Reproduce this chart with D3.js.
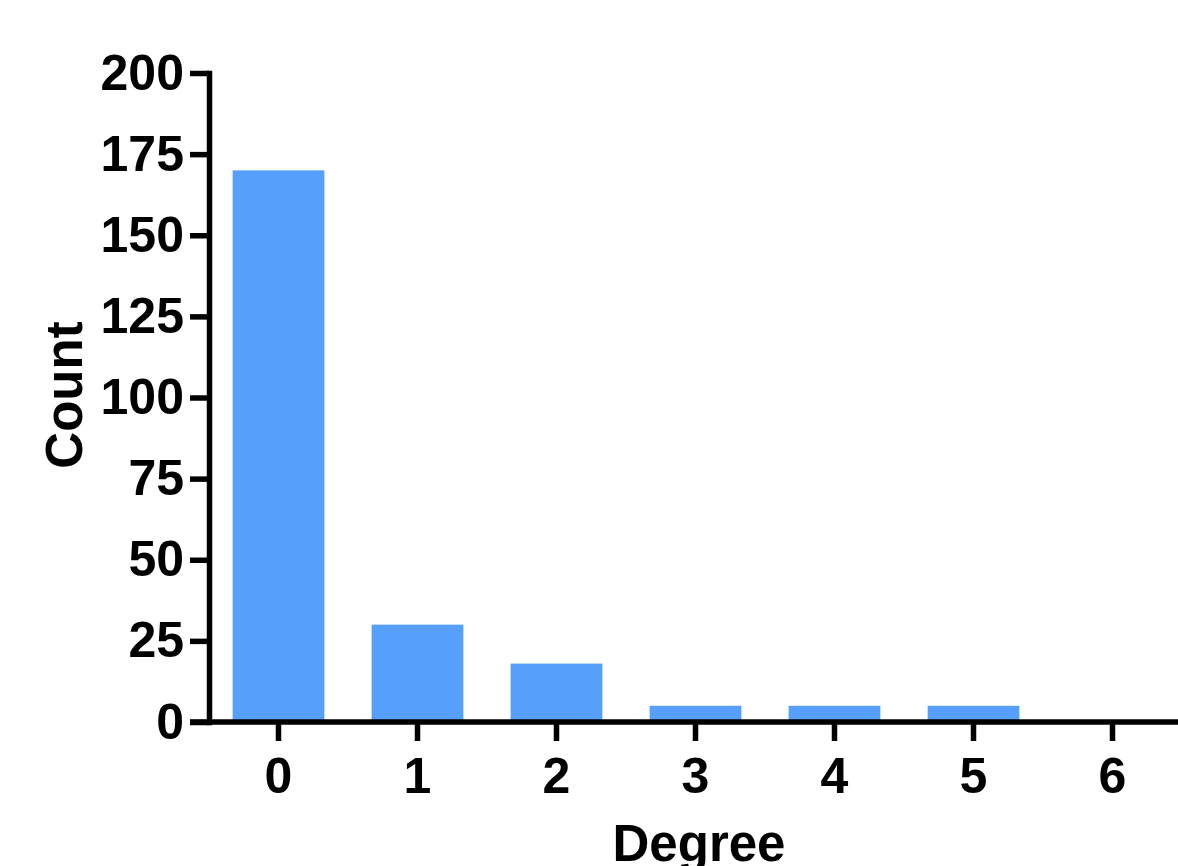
<!DOCTYPE html>
<html>
<head>
<meta charset="utf-8">
<script src="https://cdn.jsdelivr.net/npm/d3@7"></script>
<style>
  html, body { margin: 0; padding: 0; background: #fff; }
  svg { display: block; font-family: "Liberation Sans", Arial, sans-serif; font-weight: bold; }
</style>
</head>
<body>
<div id="vis"></div>
<script>
/* Datos */
const degrees = ["0", "1", "2", "3", "4", "5", "6"];
const counts = [170, 30, 18, 5, 5, 5, 0];
const yTicks = [0, 25, 50, 75, 100, 125, 150, 175, 200];

const WIDTH = 1178;
const HEIGHT = 866;

const axisX = 209;     // posición de la línea del eje Y
const zeroY = 722;     // posición de la línea del eje X
const topY = 73;       // posición del tick 200
const tickLen = 19;
const strokeW = 5.5;
const fontSize = 50;
const titleSize = 51;

const svg = d3.select("#vis")
    .append("svg")
    .attr("width", WIDTH)
    .attr("height", HEIGHT);

// Escalas
const x = d3.scaleBand()
    .domain(degrees)
    .range([axisX, axisX + 139 * degrees.length])
    .paddingInner(0.34)
    .paddingOuter(0.17);

const y = d3.scaleLinear()
    .domain([0, 200])
    .range([zeroY, topY]);

// Barras
svg.append("g")
    .selectAll("rect")
    .data(counts)
    .join("rect")
    .attr("x", (d, i) => x(degrees[i]))
    .attr("y", d => y(d))
    .attr("width", x.bandwidth())
    .attr("height", d => zeroY - y(d))
    .attr("fill", "#56a0fb");

// Eje Y
const yAxis = svg.append("g")
    .attr("transform", `translate(${axisX},0)`)
    .call(d3.axisLeft(y).tickValues(yTicks).tickSize(tickLen).tickSizeOuter(0).tickPadding(6));

yAxis.select(".domain")
    .attr("stroke", "#000")
    .attr("stroke-width", strokeW)
    .attr("stroke-linecap", "square");
yAxis.selectAll(".tick line")
    .attr("stroke", "#000")
    .attr("stroke-width", strokeW);
yAxis.selectAll(".tick text")
    .attr("fill", "#000")
    .style("font-size", fontSize + "px")
    .style("font-weight", "bold")
    .style("font-family", "'Liberation Sans', Arial, sans-serif");

// Eje X
const xAxis = svg.append("g")
    .attr("transform", `translate(0,${zeroY})`)
    .call(d3.axisBottom(x).tickSize(tickLen).tickSizeOuter(0).tickPadding(16));

xAxis.select(".domain").remove();
xAxis.append("line")
    .attr("x1", axisX - tickLen)
    .attr("x2", WIDTH + 10)
    .attr("stroke", "#000")
    .attr("stroke-width", strokeW);
xAxis.selectAll(".tick line")
    .attr("stroke", "#000")
    .attr("stroke-width", strokeW);
xAxis.selectAll(".tick text")
    .attr("fill", "#000")
    .style("font-size", fontSize + "px")
    .style("font-weight", "bold")
    .style("font-family", "'Liberation Sans', Arial, sans-serif");

// Títulos de los ejes
svg.append("text")
    .attr("transform", "translate(82,395) rotate(-90)")
    .attr("text-anchor", "middle")
    .style("font-size", titleSize + "px")
    .text("Count");

svg.append("text")
    .attr("x", 699)
    .attr("y", 861)
    .attr("text-anchor", "middle")
    .style("font-size", titleSize + "px")
    .text("Degree");
</script>
</body>
</html>
